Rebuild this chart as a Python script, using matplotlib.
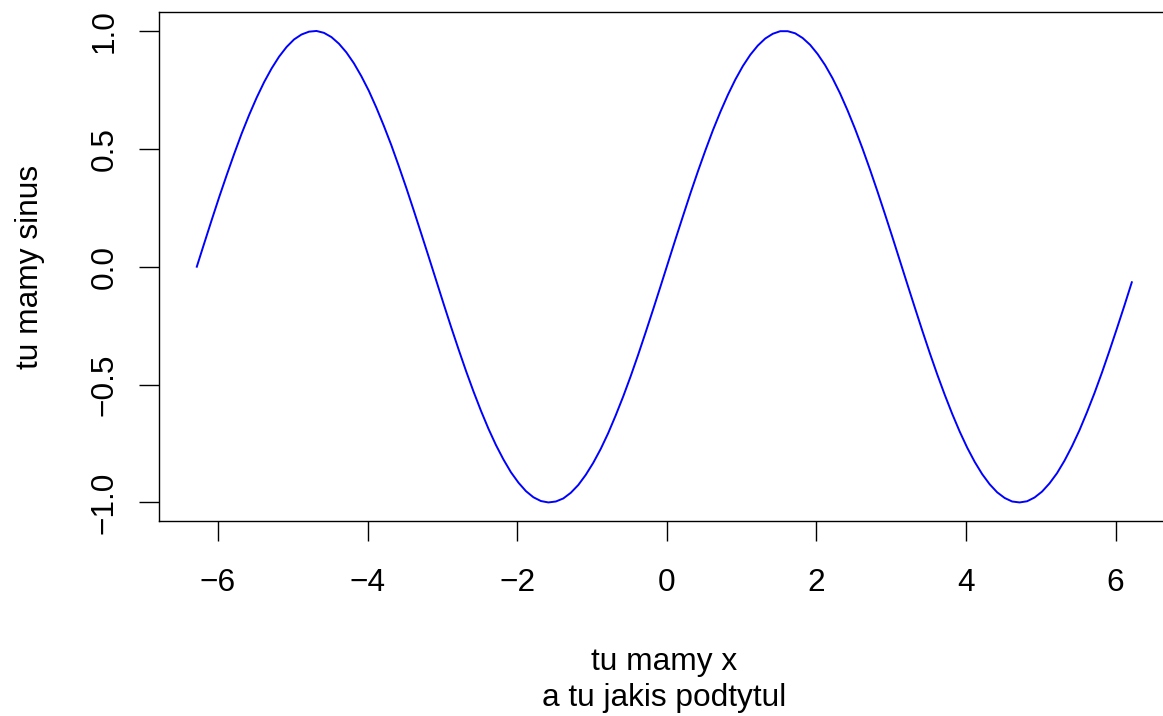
import matplotlib
matplotlib.use('Agg')
import matplotlib.pyplot as plt
import numpy as np

plt.rcParams['font.family'] = ['Liberation Sans', 'DejaVu Sans']

# sampling grid: seq(-2*pi, 2*pi, by = 0.1)
x_vals = [round(-6.2832 + 0.1 * i, 4) for i in range(126)]

y_vals = [
    0.000, 0.100, 0.199, 0.296, 0.389, 0.479, 0.565, 0.644, 0.717, 0.783,
    0.841, 0.891, 0.932, 0.964, 0.985, 0.997, 1.000, 0.992, 0.974, 0.946,
    0.909, 0.863, 0.808, 0.746, 0.675, 0.598, 0.516, 0.427, 0.335, 0.239,
    0.141, 0.042, -0.058, -0.158, -0.256, -0.351, -0.443, -0.530, -0.612, -0.688,
    -0.757, -0.818, -0.872, -0.916, -0.952, -0.978, -0.994, -1.000, -0.996, -0.983,
    -0.959, -0.926, -0.883, -0.832, -0.773, -0.706, -0.631, -0.551, -0.465, -0.374,
    -0.279, -0.182, -0.083,
    0.017, 0.117, 0.215, 0.312, 0.405, 0.494, 0.579, 0.657, 0.729, 0.794,
    0.851, 0.899, 0.938, 0.968, 0.988, 0.999, 0.999, 0.990, 0.970, 0.941,
    0.902, 0.855, 0.799, 0.735, 0.663, 0.585, 0.501, 0.412, 0.319, 0.223,
    0.125, 0.025, -0.075, -0.174, -0.272, -0.367, -0.458, -0.544, -0.625, -0.700,
    -0.768, -0.828, -0.880, -0.923, -0.957, -0.981, -0.996, -1.000, -0.995, -0.979,
    -0.954, -0.919, -0.876, -0.823, -0.762, -0.694, -0.618, -0.537, -0.450, -0.358,
    -0.263, -0.166, -0.066,
]

x_ticks = [-6, -4, -2, 0, 2, 4, 6]
x_ticklabels = ['\u22126', '\u22124', '\u22122', '0', '2', '4', '6']
y_ticks = [-1.0, -0.5, 0.0, 0.5, 1.0]
y_ticklabels = ['\u22121.0', '\u22120.5', '0.0', '0.5', '1.0']

x_label = 'tu mamy x'
sub_label = 'a tu jakis podtytul'
y_label = 'tu mamy sinus'

n = min(len(x_vals), len(y_vals))
xs = np.array(x_vals[:n])
ys = np.array(y_vals[:n])

W, H = 1163, 716
fig = plt.figure(figsize=(W / 100, H / 100), dpi=100)
fig.patch.set_facecolor('white')

left_px, right_px, top_px, bottom_px = 159.4, 1169.2, 12.1, 521.3
ax = fig.add_axes([left_px / W, 1 - bottom_px / H,
                   (right_px - left_px) / W, (bottom_px - top_px) / H])

ax.plot(xs, ys, color='#0000FF', lw=1.4)

xr = xs.max() - xs.min()
ax.set_xlim(xs.min() - 0.04 * xr, xs.max() + 0.04 * xr)
ax.set_ylim(-1.08, 1.08)

ax.set_xticks(x_ticks)
ax.set_xticklabels(x_ticklabels)
ax.set_yticks(y_ticks)
ax.set_yticklabels(y_ticklabels, rotation=90, va='center')

fs = 22.8
ax.tick_params(axis='both', direction='out', length=14.4, width=1.0,
               labelsize=fs, color='black')
ax.tick_params(axis='x', pad=19)
ax.tick_params(axis='y', pad=14)
for s in ax.spines.values():
    s.set_linewidth(1.0)
    s.set_color('black')

cx = (left_px + right_px) / 2 / W
fig.text(cx, 1 - 670 / H, x_label, ha='center', va='baseline', fontsize=fs)
fig.text(cx, 1 - 706 / H, sub_label, ha='center', va='baseline', fontsize=fs)
fig.text(30 / W, 1 - (top_px + bottom_px) / 2 / H, y_label, rotation=90,
         ha='center', va='center', fontsize=fs)

fig.savefig('out.png', dpi=100)
